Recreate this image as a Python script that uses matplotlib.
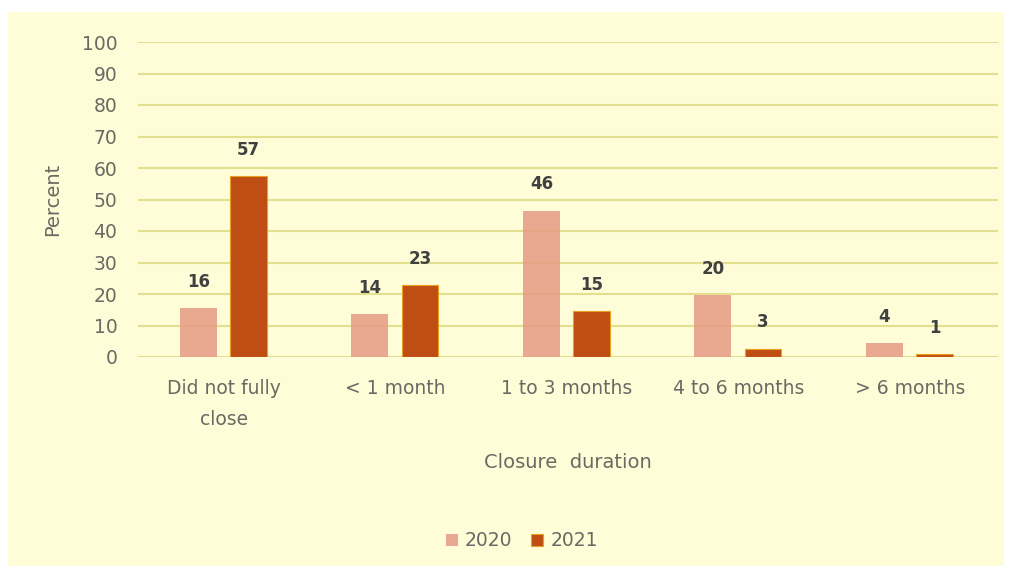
import numpy as np
import matplotlib
matplotlib.use('Agg')
import matplotlib.pyplot as plt
from matplotlib.patches import Rectangle

categories = ['Did not fully\nclose', '< 1 month', '1 to 3 months', '4 to 6 months', '> 6 months']
years = ['2020', '2021']
vals_2020 = [16, 14, 46, 20, 4]
vals_2021 = [57, 23, 15, 3, 1]
heights_2020 = [15.5, 13.5, 46.5, 19.7, 4.3]
heights_2021 = [57.5, 22.8, 14.6, 2.6, 0.9]

plt.rcParams['font.family'] = ['DejaVu Sans']

bg = '#FEFDD8'
txt = '#6A6A64'
fig = plt.figure(figsize=(10.12, 5.68), dpi=100)
fig.patch.set_facecolor('white')
fig.patches.append(Rectangle((8 / 1012, 2 / 568), 996 / 1012, 554 / 568,
                             transform=fig.transFigure, facecolor=bg,
                             edgecolor='none', zorder=-10))

ax = fig.add_axes([138.25 / 1012, 211 / 568, 860 / 1012, 315 / 568])
ax.set_facecolor('none')

x = np.arange(len(categories))
w = 0.215
b1 = ax.bar(x - 0.149, heights_2020, w, color='#E69A85', alpha=0.85,
            label=years[0], zorder=3)
b2 = ax.bar(x + 0.143, heights_2021, w, color='#BF4E14', edgecolor='#E8A020',
            linewidth=0.8, label=years[1], zorder=3)

for rect, v in zip(b1, vals_2020):
    ax.text(rect.get_x() + rect.get_width() / 2, rect.get_height() + 5.5, str(v),
            ha='center', va='bottom', fontsize=12, fontweight='bold', color='#404040')
for rect, v in zip(b2, vals_2021):
    ax.text(rect.get_x() + rect.get_width() / 2, rect.get_height() + 5.5, str(v),
            ha='center', va='bottom', fontsize=12, fontweight='bold', color='#404040')

ax.set_xlim(-0.5, 4.515)
ax.set_ylim(0, 100)
ax.set_yticks(range(0, 101, 10))
ax.yaxis.grid(True, color='#E2E08E', linewidth=1.5, zorder=1)
ax.set_axisbelow(True)
for s in ax.spines.values():
    s.set_visible(False)
ax.tick_params(length=0, colors=txt, labelsize=13.5)
ax.tick_params(axis='y', pad=15)
ax.tick_params(axis='x', pad=16)
ax.set_xticks(x)
ax.set_xticklabels(categories, linespacing=1.8)

ax.set_xlabel('Closure  duration', fontsize=14, color=txt, labelpad=17)
ax.set_ylabel('Percent', fontsize=14, color=txt, labelpad=14)

ax.legend(loc='center', bbox_to_anchor=(522 / 1012, 27 / 568),
          bbox_transform=fig.transFigure, ncol=2, frameon=False,
          fontsize=13.5, labelcolor=txt, handlelength=0.6, handleheight=0.6,
          handletextpad=0.4, columnspacing=1.0)

fig.savefig('out.png', dpi=100, facecolor='white')
